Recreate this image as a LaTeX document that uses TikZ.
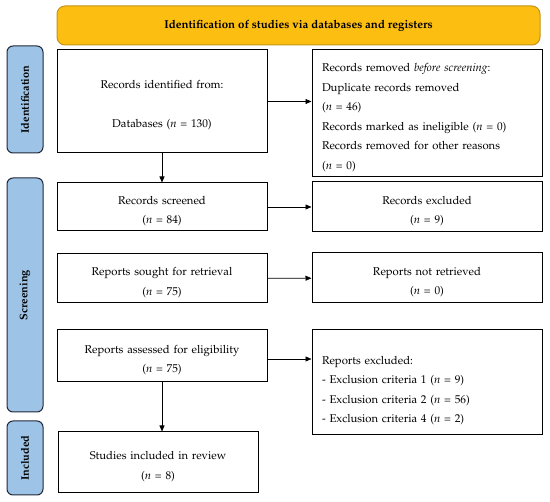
\documentclass[tikz,border=0pt]{standalone}
\usepackage[T1]{fontenc}
\usepackage{mathpazo}
\usetikzlibrary{arrows.meta}
\definecolor{bannerfill}{RGB}{252,190,17}
\definecolor{bannerdraw}{RGB}{196,148,22}
\definecolor{phasefill}{RGB}{157,195,230}
\definecolor{phasedraw}{RGB}{32,40,56}
\begin{document}
\begin{tikzpicture}[x=1pt,y=-1pt,
        flowbox/.style={draw,line width=1pt,minimum width=210pt,inner xsep=10pt,text width=190pt,align=center,font=\fontsize{11.3}{19.5}\selectfont,
            execute at begin node={\noindent\rule{0pt}{16pt}}},
        sidebox/.style={flowbox,minimum width=230pt,text width=210pt,align=left},
        phase/.style={draw=phasedraw,fill=phasefill,line width=1pt,rounded corners=6pt,minimum height=36pt,rotate=90,font=\bfseries\fontsize{11}{13}\selectfont},
        flow/.style={-{Triangle[length=6pt,width=5pt]},line width=0.6pt}]
    \useasboundingbox (0,0) rectangle (550,502);

    \node[draw=bannerdraw,fill=bannerfill,line width=1pt,rounded corners=8pt,minimum width=483pt,minimum height=39pt,font=\bfseries\fontsize{11.5}{13}\selectfont] (banner) at (298.5,25.5) {Identification of studies via databases and registers};

    \node[phase,minimum width=107pt] (phaseid) at (25,99.5) {Identification};
    \node[phase,minimum width=234pt] (phasescr) at (25,295) {Screening};
    \node[phase,minimum width=74pt] (phaseinc) at (25,458) {Included};

    \node[flowbox,minimum height=103pt] (identified) at (162,101.5) {Records identified from:\\[19.5pt]Databases (\textit{n} = 130)};
    \node[flowbox,minimum height=48pt] (screened) at (162,207) {Records screened\\(\textit{n} = 84)};
    \node[flowbox,minimum height=49pt] (sought) at (162,278.5) {Reports sought for retrieval\\(\textit{n} = 75)};
    \node[flowbox,minimum height=52pt] (assessed) at (162,356) {Reports assessed for eligibility\\(\textit{n} = 75)};
    \node[flowbox,minimum width=200pt,text width=180pt,minimum height=61pt] (included) at (158,462.5) {Studies included in review\\(\textit{n} = 8)};

    \node[sidebox,minimum height=127pt] (removed) at (427,113.5) {Records removed \textit{before screening}:\\Duplicate records removed\\(\textit{n} = 46)\\Records marked as ineligible (\textit{n} = 0)\\Records removed for other reasons\\(\textit{n} = 0)};
    \node[sidebox,align=center,minimum height=50pt] (excluded) at (427,207) {Records excluded\\(\textit{n} = 9)};
    \node[sidebox,align=center,minimum height=50pt] (notretrieved) at (427,278) {Reports not retrieved\\(\textit{n} = 0)};
    \node[sidebox,minimum height=105pt,execute at begin node={\noindent\rule{0pt}{24pt}}] (repexcluded) at (427,382.5) {Reports excluded:\\- Exclusion criteria 1 (\textit{n} = 9)\\- Exclusion criteria 2 (\textit{n} = 56)\\- Exclusion criteria 4 (\textit{n} = 2)};

    \draw[flow] (identified.east) -- (identified.east -| removed.west);
    \draw[flow] (screened) -- (excluded);
    \draw[flow] (sought) -- (notretrieved);
    \draw[flow] ([yshift=-3pt]assessed.east) -- ([yshift=-3pt]assessed.east -| repexcluded.west);
    \draw[flow] (identified) -- (screened);
    \draw[flow] (assessed.south) -- (assessed.south |- included.north);
\end{tikzpicture}
\end{document}
